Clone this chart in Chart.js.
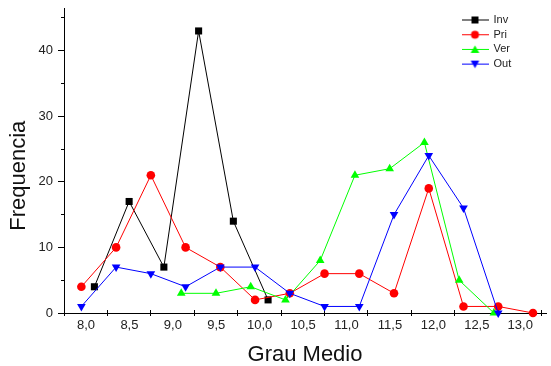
<!DOCTYPE html>
<html>
<head>
<meta charset="utf-8">
<script src="https://cdn.jsdelivr.net/npm/chart.js@4/dist/chart.umd.min.js"></script>
<style>
    html, body { margin: 0; padding: 0; background: #fff; }
    #caixa { width: 551px; height: 366px; }
</style>
</head>
<body>
<div id="caixa"><canvas id="grafico"></canvas></div>
<script>
// dados (Grau Medio x Frequencia)
const xInv = [8.1, 8.5, 8.9, 9.3, 9.7, 10.1];
const yInv = [4, 17, 7, 43, 14, 2];

const xPri = [7.95, 8.35, 8.75, 9.15, 9.55, 9.95, 10.35, 10.75, 11.15, 11.55, 11.95, 12.35, 12.75, 13.15];
const yPri = [4, 10, 21, 10, 7, 2, 3, 6, 6, 3, 19, 1, 1, 0];

const xVer = [9.1, 9.5, 9.9, 10.3, 10.7, 11.1, 11.5, 11.9, 12.3, 12.7];
const yVer = [3, 3, 4, 2, 8, 21, 22, 26, 5, 0];

const xOut = [7.95, 8.35, 8.75, 9.15, 9.55, 9.95, 10.35, 10.75, 11.15, 11.55, 11.95, 12.35, 12.75];
const yOut = [1, 7, 6, 4, 7, 7, 3, 1, 1, 15, 24, 16, 0];

const xLabelValues = [8.0, 8.5, 9.0, 9.5, 10.0, 10.5, 11.0, 11.5, 12.0, 12.5, 13.0];
const xTickLabels = ['8,0', '8,5', '9,0', '9,5', '10,0', '10,5', '11,0', '11,5', '12,0', '12,5', '13,0'];
const yMajor = [0, 10, 20, 30, 40];

// marcas do eixo x ficam entre os rotulos (como no Origin)
const xTickPos = xLabelValues.map(v => v - 0.25).concat([xLabelValues[xLabelValues.length - 1] + 0.25]);
const yTickPos = [];
yMajor.forEach(v => { yTickPos.push(v, v + 5); });

Chart.defaults.font.family = "'Liberation Sans', Arial, sans-serif";
Chart.defaults.color = '#222';

const pts = (xs, ys) => xs.map((x, i) => ({x: x, y: ys[i]}));

// simbolo da legenda: linha + marcador
function simbolo(cor, tipo) {
    const c = document.createElement('canvas');
    c.width = 27;
    c.height = 11;
    const g = c.getContext('2d');
    g.strokeStyle = cor;
    g.fillStyle = cor;
    g.lineWidth = 1;
    g.beginPath();
    g.moveTo(0, 5.5);
    g.lineTo(27, 5.5);
    g.stroke();
    g.beginPath();
    if (tipo === 'rect') {
        g.rect(10, 2, 7, 7);
    } else if (tipo === 'circle') {
        g.arc(13.5, 5.5, 4, 0, Math.PI * 2);
    } else if (tipo === 'up') {
        g.moveTo(13.5, 1.5);
        g.lineTo(17.8, 9);
        g.lineTo(9.2, 9);
    } else {
        g.moveTo(13.5, 9.5);
        g.lineTo(17.8, 2);
        g.lineTo(9.2, 2);
    }
    g.closePath();
    g.fill();
    return c;
}

const simbolos = [
    simbolo('#000000', 'rect'),
    simbolo('#ff0000', 'circle'),
    simbolo('#00ff00', 'up'),
    simbolo('#0000ff', 'down')
];

const legendaPos = {
    id: 'legendaPos',
    afterLayout(chart) {
        const l = chart.legend;
        const p = l.options.labels.padding;
        l.left = 462 - p;
        l.right = l.left + l.width;
        l.top = 14.5 - p;
        l.bottom = l.top + 120;
    }
};

let grafico = new Chart(document.getElementById('grafico'), {
    type: 'scatter',
    data: {
        datasets: [{
            label: 'Inv',
            data: pts(xInv, yInv),
            borderColor: '#000000',
            backgroundColor: '#000000',
            pointStyle: 'rect',
            pointRadius: 5,
            order: 3
        },
            {
                label: 'Pri',
                data: pts(xPri, yPri),
                borderColor: '#ff0000',
                backgroundColor: '#ff0000',
                pointStyle: 'circle',
                pointRadius: 4.3,
                order: 2
            },
            {
                label: 'Ver',
                data: pts(xVer, yVer),
                borderColor: '#00ff00',
                backgroundColor: '#00ff00',
                pointStyle: 'triangle',
                pointRadius: 5,
                order: 1
            },
            {
                label: 'Out',
                data: pts(xOut, yOut),
                borderColor: '#0000ff',
                backgroundColor: '#0000ff',
                pointStyle: 'triangle',
                pointRotation: 180,
                pointRadius: 5,
                order: 0
            }]
    },
    options: {
        responsive: true,
        maintainAspectRatio: false,
        animation: false,
        datasets: {
            scatter: {
                showLine: true,
                borderWidth: 1,
                pointBorderWidth: 0,
                tension: 0,
                clip: false
            }
        },
        layout: {
            padding: {top: 8, right: 0, bottom: 0, left: 0}
        },
        scales: {
            x: {
                type: 'linear',
                min: 7.75,
                max: 13.3,
                afterBuildTicks: s => { s.ticks = xTickPos.map(v => ({value: v})); },
                afterFit: s => { s.height = 53; s.paddingLeft = 0; s.paddingRight = 0; },
                ticks: {
                    autoSkip: false,
                    maxRotation: 0,
                    minRotation: 0,
                    labelOffset: 22,
                    padding: 2,
                    font: {size: 13},
                    callback: (v, i) => xTickLabels[i] || ''
                },
                grid: {
                    // so um pedacinho da linha junto ao eixo, para a marca cruzar o eixo
                    drawOnChartArea: true,
                    tickBorderDash: [],
                    tickLength: 3,
                    color: '#000'
                },
                border: {color: '#000', width: 1, dash: [0, 302, 3, 1000]},
                title: {
                    display: true,
                    text: 'Grau Medio',
                    font: {size: 22, lineHeight: 1},
                    padding: 0,
                    color: '#111'
                }
            },
            y: {
                min: 0,
                max: 46.5,
                afterBuildTicks: s => { s.ticks = yTickPos.map(v => ({value: v})); },
                afterFit: s => { s.width = 64; s.paddingTop = 0; s.paddingBottom = 0; },
                ticks: {
                    padding: 5,
                    font: {size: 13},
                    callback: v => yMajor.includes(v) ? String(v) : ''
                },
                grid: {
                    drawOnChartArea: false,
                    tickLength: 6,
                    color: '#000',
                    tickBorderDash: c => (c.tick && !yMajor.includes(c.tick.value)) ? [0, 3, 3, 10] : []
                },
                border: {color: '#000', width: 1},
                title: {
                    display: true,
                    text: 'Frequencia\u00a0\u00a0\u00a0\u00a0\u00a0',
                    font: {size: 22, lineHeight: 1},
                    padding: {top: 8, bottom: 0},
                    color: '#111'
                }
            }
        },
        plugins: {
            tooltip: {enabled: false},
            legend: {
                position: 'chartArea',
                align: 'start',
                labels: {
                    usePointStyle: true,
                    pointStyleWidth: 26,
                    boxHeight: 11,
                    padding: 3.7,
                    font: {size: 11},
                    color: '#222',
                    generateLabels: chart => chart.data.datasets.map((ds, i) => ({
                        text: ds.label,
                        pointStyle: simbolos[i],
                        datasetIndex: i,
                        hidden: false,
                        lineWidth: 0,
                        fontColor: '#222',
                        fillStyle: ds.backgroundColor,
                        strokeStyle: ds.borderColor
                    }))
                }
            }
        }
    },
    plugins: [legendaPos]
});
</script>
</body>
</html>
